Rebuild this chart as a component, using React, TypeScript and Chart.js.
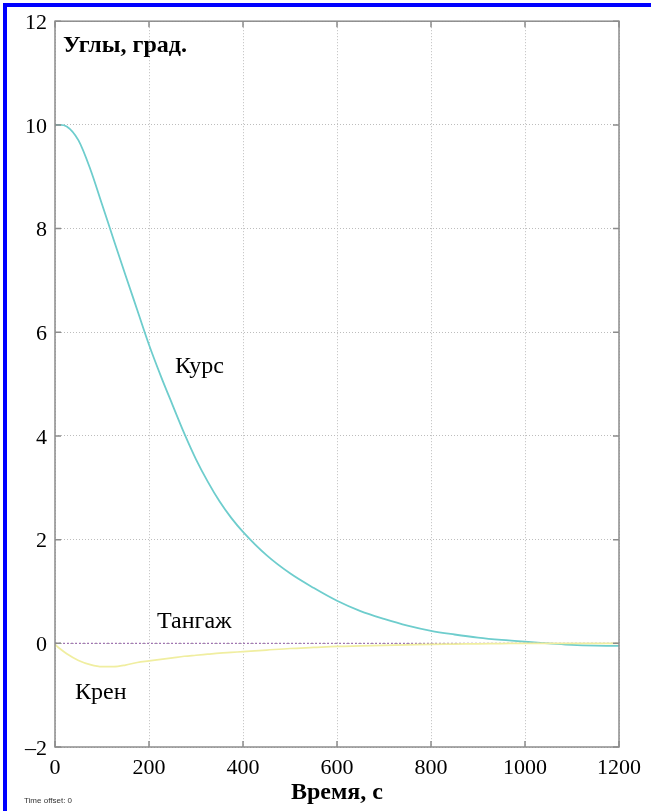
import React, { useEffect, useRef } from "react";
import { Chart, registerables } from "chart.js";

Chart.register(...registerables);

const times = [0, 10, 25, 50, 75, 100, 125, 150, 175, 200, 225, 250, 275, 300, 325, 350, 375, 400, 450, 500, 550, 600, 650, 700, 750, 800, 850, 900, 950, 1000, 1050, 1100, 1150, 1200];
const kurs = [10, 10, 9.97, 9.7, 9.15, 8.47, 7.78, 7.1, 6.43, 5.76, 5.16, 4.6, 4.05, 3.55, 3.12, 2.74, 2.42, 2.15, 1.7, 1.35, 1.07, 0.82, 0.62, 0.47, 0.34, 0.24, 0.17, 0.11, 0.065, 0.03, 0.0, -0.03, -0.045, -0.05];
const kren = [-0.02, -0.1, -0.2, -0.33, -0.41, -0.45, -0.45, -0.42, -0.37, -0.34, -0.31, -0.28, -0.25, -0.23, -0.21, -0.19, -0.175, -0.16, -0.13, -0.1, -0.08, -0.06, -0.05, -0.04, -0.03, -0.02, -0.015, -0.01, -0.005, 0, 0, 0, 0, 0];
const tangazh = [0, 0, 0, 0, 0, 0, 0, 0, 0, 0, 0, 0, 0, 0, 0, 0, 0, 0, 0, 0, 0, 0, 0, 0, 0, 0, 0, 0, 0, 0, 0, 0, 0, 0];

const xTicks = [0, 200, 400, 600, 800, 1000, 1200];
const yTicks = [-2, 0, 2, 4, 6, 8, 10, 12];

const seriesNames = ["Курс", "Тангаж", "Крен"];
const yTitle = "Углы, град.";
const xTitle = "Время, с";
const footNote = "Time offset: 0";

const SERIF = "'Liberation Serif', 'Times New Roman', serif";

const toPts = (vals: number[]) => vals.map((v, i) => ({ x: times[i], y: v }));

const decorPlugin = {
  id: "decor",
  beforeDraw(chart: any) {
    const { ctx, width, height } = chart;
    ctx.save();
    ctx.fillStyle = "#ffffff";
    ctx.fillRect(0, 0, width, height);
    ctx.restore();
  },
  afterDatasetsDraw(chart: any) {
    const { ctx, chartArea: a, scales } = chart;
    const xs = scales.x;
    const ys = scales.y;
    ctx.save();
    ctx.strokeStyle = "#8c8c8c";
    ctx.lineWidth = 1.5;
    ctx.strokeRect(a.left, a.top, a.right - a.left, a.bottom - a.top);
    const tl = 6;
    ctx.beginPath();
    xTicks.forEach((t) => {
      const px = xs.getPixelForValue(t);
      ctx.moveTo(px, a.bottom);
      ctx.lineTo(px, a.bottom - tl);
      ctx.moveTo(px, a.top);
      ctx.lineTo(px, a.top + tl);
    });
    yTicks.forEach((t) => {
      const py = ys.getPixelForValue(t);
      ctx.moveTo(a.left, py);
      ctx.lineTo(a.left + tl, py);
      ctx.moveTo(a.right, py);
      ctx.lineTo(a.right - tl, py);
    });
    ctx.stroke();

    ctx.fillStyle = "#000000";
    ctx.textAlign = "left";
    ctx.textBaseline = "alphabetic";
    ctx.font = `bold 24px ${SERIF}`;
    ctx.fillText(yTitle, 63, 52);
    ctx.font = `24px ${SERIF}`;
    ctx.fillText(seriesNames[0], 175, 373);
    ctx.fillText(seriesNames[1], 157, 628);
    ctx.fillText(seriesNames[2], 75, 699);
    ctx.font = `8px 'Liberation Sans', Arial, sans-serif`;
    ctx.fillStyle = "#333333";
    ctx.fillText(footNote, 24, 803);

    ctx.fillStyle = "#0000ff";
    ctx.fillRect(3, 3, chart.width - 3, 4);
    ctx.fillRect(3, 3, 4, chart.height - 3);
    ctx.restore();
  },
};

export default function App() {
  const ref = useRef<HTMLCanvasElement | null>(null);
  useEffect(() => {
    if (!ref.current) return;
    const chart = new Chart(ref.current, {
      type: "line",
      data: {
        datasets: [
          {
            label: seriesNames[2],
            data: toPts(kren),
            borderColor: "rgb(240,238,160)",
            borderWidth: 1.7,
            pointRadius: 0,
            cubicInterpolationMode: "monotone",
            fill: false,
          },
          {
            label: seriesNames[1],
            data: toPts(tangazh),
            borderColor: "rgba(150,100,170,0.85)",
            borderWidth: 1.2,
            borderDash: [2, 2],
            pointRadius: 0,
            fill: false,
          },
          {
            label: seriesNames[0],
            data: toPts(kurs),
            borderColor: "rgb(110,205,205)",
            borderWidth: 1.8,
            pointRadius: 0,
            cubicInterpolationMode: "monotone",
            fill: false,
          },
        ],
      },
      options: {
        animation: false,
        responsive: false,
        devicePixelRatio: 1,
        layout: { padding: { left: 0, top: 19, right: 32, bottom: 0 } },
        plugins: {
          legend: { display: false },
          tooltip: { enabled: false },
        },
        scales: {
          x: {
            type: "linear",
            min: 0,
            max: 1200,
            afterBuildTicks: (s: any) => {
              s.ticks = xTicks.map((v) => ({ value: v }));
            },
            afterFit: (s: any) => {
              s.height = 64;
            },
            ticks: {
              color: "#000",
              font: { family: SERIF, size: 22 },
              padding: 8,
              maxRotation: 0,
              autoSkip: false,
              callback: (v: any) => String(v),
            },
            grid: { color: "#bdbdbd", lineWidth: 1, drawTicks: false },
            border: { display: false, dash: [1, 2] },
            title: {
              display: true,
              text: xTitle,
              color: "#000",
              font: { family: SERIF, size: 24, weight: "bold" },
              padding: { top: 0, bottom: 4 },
            },
          },
          y: {
            type: "linear",
            min: -2,
            max: 12,
            afterBuildTicks: (s: any) => {
              s.ticks = yTicks.map((v) => ({ value: v }));
            },
            afterFit: (s: any) => {
              s.width = 55;
            },
            ticks: {
              color: "#000",
              font: { family: SERIF, size: 22 },
              padding: 8,
              labelOffset: 2,
              autoSkip: false,
              callback: (v: any) => String(v).replace("-", "\u2013"),
            },
            grid: { color: "#bdbdbd", lineWidth: 1, drawTicks: false },
            border: { display: false, dash: [1, 2] },
          },
        },
      },
      plugins: [decorPlugin],
    });
    return () => chart.destroy();
  }, []);
  return (
    <div style={{ position: "fixed", left: 0, top: 0, width: 651, height: 811, background: "#fff" }}>
      <canvas ref={ref} width={651} height={811} style={{ width: 651, height: 811, display: "block" }} />
    </div>
  );
}
